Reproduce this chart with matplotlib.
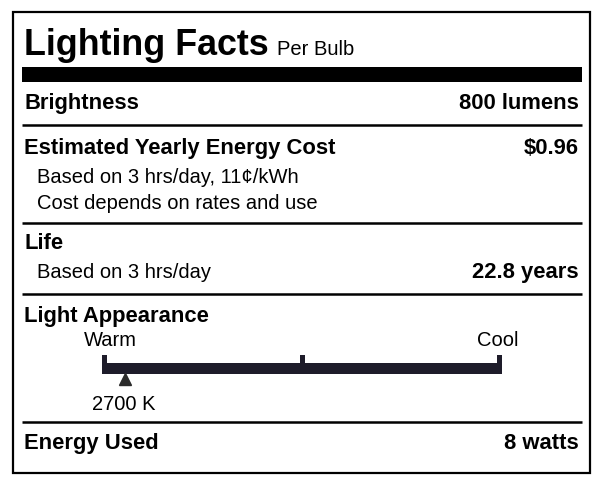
import matplotlib.pyplot as plt
from matplotlib.patches import Rectangle

plt.rcParams['font.family'] = ['Liberation Sans', 'DejaVu Sans']

# label content
title = "Lighting Facts"
subtitle = "Per Bulb"
rows = [
    ("Brightness", "800 lumens"),
    ("Estimated Yearly Energy Cost", "$0.96"),
    ("Life", ""),
    ("Light Appearance", ""),
    ("Energy Used", "8 watts"),
]
cost_notes = ["Based on 3 hrs/day, 11¢/kWh", "Cost depends on rates and use"]
life_note = "Based on 3 hrs/day"
life_value = "22.8 years"
scale_ends = ["Warm", "Cool"]
scale_min_k = 2500
scale_max_k = 6000
color_temp_k = 2700

W, H = 602, 486
fig = plt.figure(figsize=(W / 100, H / 100), dpi=100)
ax = fig.add_axes([0, 0, 1, 1])
ax.set_xlim(0, W)
ax.set_ylim(H, 0)
ax.axis('off')

ink = '#000000'
ax.add_patch(Rectangle((13, 12), 577, 461, fill=False, edgecolor=ink, linewidth=1.6))
ax.add_patch(Rectangle((22, 67), 560, 15, facecolor=ink, edgecolor='none'))

ax.text(24, 55, title, fontsize=25.8, fontweight='bold', va='baseline', ha='left')
ax.text(277, 55, subtitle, fontsize=14.5, va='baseline', ha='left')

for y in [125, 223, 294, 422]:
    ax.plot([22, 582], [y, y], color=ink, linewidth=1.8, solid_capstyle='butt')

bold_kw = dict(fontsize=15.8, fontweight='bold', va='center')
note_kw = dict(fontsize=14.5, va='center')

row_y = [103, 148, 243, 316, 443]
for (lab, val), y in zip(rows, row_y):
    ax.text(24, y, lab, ha='left', **bold_kw)
    if val:
        ax.text(579, y, val, ha='right', **bold_kw)

for note, y in zip(cost_notes, [177, 203]):
    ax.text(37, y, note, ha='left', **note_kw)

ax.text(37, 272, life_note, ha='left', **note_kw)
ax.text(579, 272, life_value, ha='right', **bold_kw)

# colour temperature scale
bar_color = '#1e1c2a'
sax = fig.add_axes([102 / W, 1 - 386 / H, 400 / W, 34 / H])
sax.set_xlim(scale_min_k, scale_max_k)
sax.set_ylim(34, 0)
sax.axis('off')
mid_k = (scale_min_k + scale_max_k) / 2
kpx = (scale_max_k - scale_min_k) / 400
sax.add_patch(Rectangle((scale_min_k, 11), scale_max_k - scale_min_k, 11,
                        facecolor=bar_color, edgecolor='none'))
for k in [scale_min_k, mid_k - 2.5 * kpx, scale_max_k - 5 * kpx]:
    sax.add_patch(Rectangle((k, 3), 5 * kpx, 12, facecolor=bar_color, edgecolor='none'))
sax.plot([color_temp_k], [26.5], marker='^', markersize=8.5, color='#2b2b2b', linestyle='none')

ax.text(110, 340, scale_ends[0], ha='center', **note_kw)
ax.text(498, 340, scale_ends[1], ha='center', **note_kw)
ax.text(123.5, 404, f"{color_temp_k} K", ha='center', **note_kw)

fig.savefig('out.png', dpi=100)
